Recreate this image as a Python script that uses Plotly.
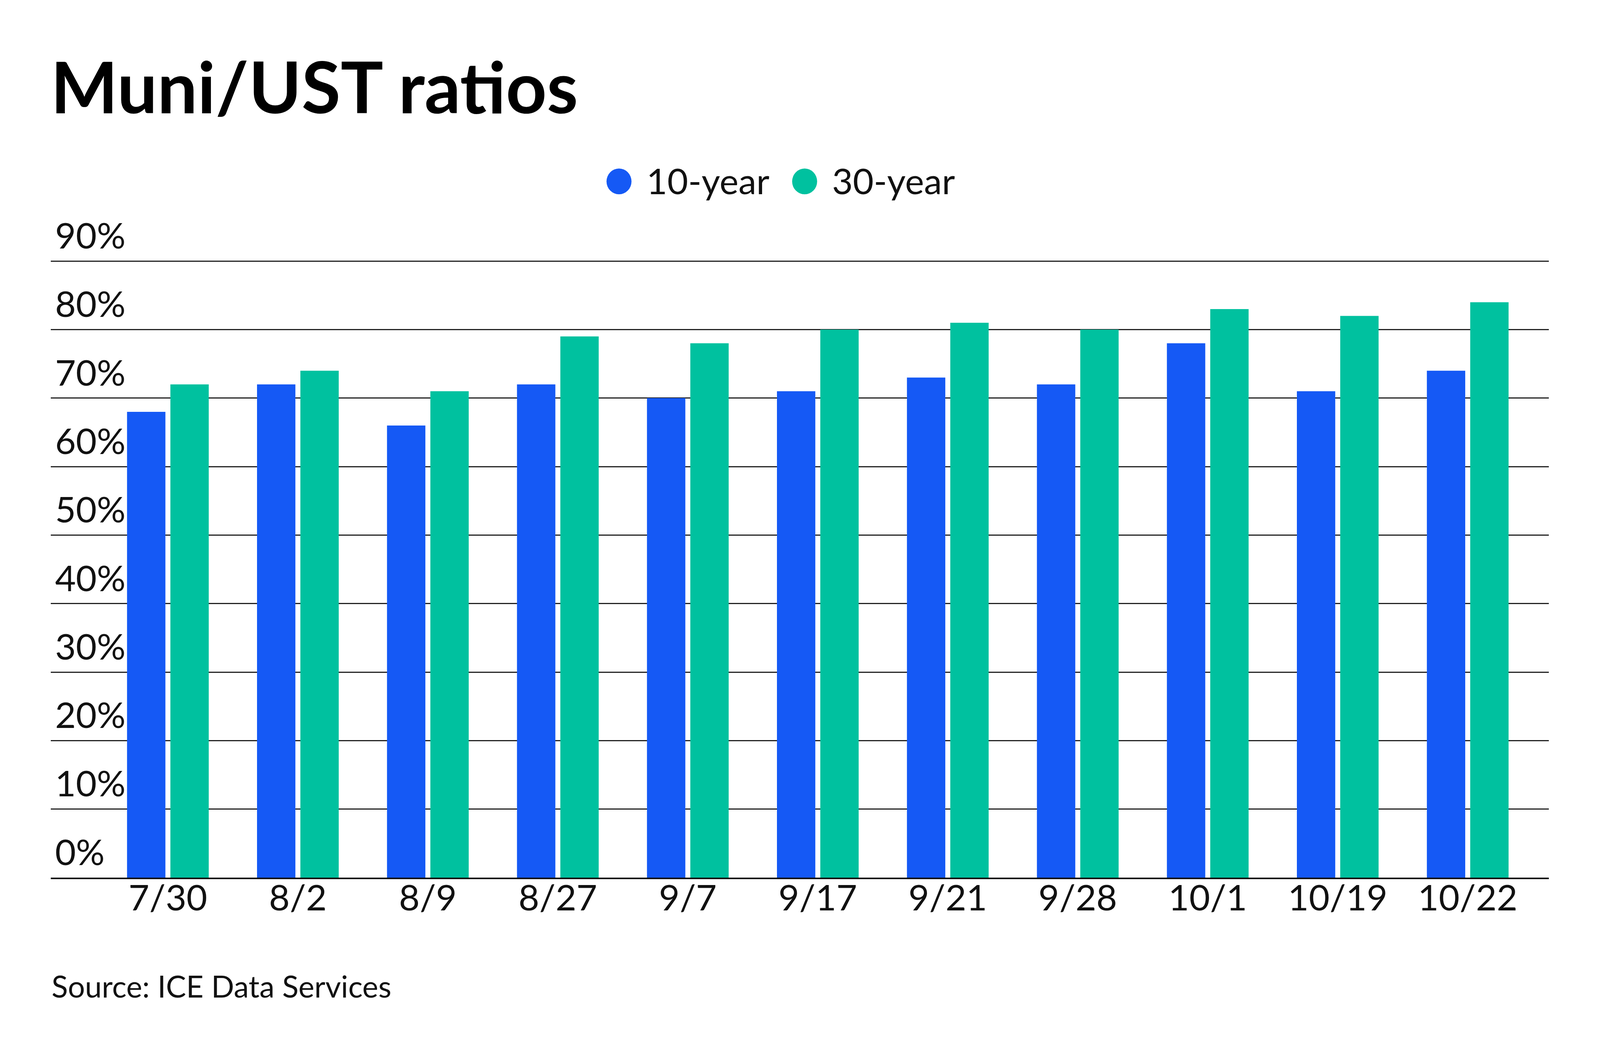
import plotly.graph_objects as go

# Muni/UST ratio data (%)
dates = ["7/30", "8/2", "8/9", "8/27", "9/7", "9/17", "9/21", "9/28", "10/1", "10/19", "10/22"]
ten_year = [68, 72, 66, 72, 70, 71, 73, 72, 78, 71, 74]
thirty_year = [72, 74, 71, 79, 78, 80, 81, 80, 83, 82, 84]

series_names = ["10-year", "30-year"]
colors = ["#1559F5", "#00C19F"]

FONT = "Lato"

# the page is 4096 css px wide (figure 4080x2684 inside the body margin);
# reference positions were measured on a 4800x2700 picture
FW, FH = 4080, 2684
SX = 4096 / 4800
FS = 0.92  # font scale, compromise between the x and y scaling


def fx(x_ref):
    return x_ref * SX - 8


def fy(y_ref):
    return y_ref - 8


Y_TOP = 98
PL, PR = fx(152), fx(4647)
PB = fy(2246)
PT = PB - Y_TOP * (2246 - 668) / 90
PW, PH = PR - PL, PB - PT

fig = go.Figure()
for name, vals, col in zip(series_names, [ten_year, thirty_year], colors):
    fig.add_trace(go.Bar(
        x=dates, y=vals, name=name,
        marker=dict(color=col, line=dict(width=0)),
        showlegend=False,
    ))

# hand-drawn legend (plotly caps legend marker size, so draw circles + labels)
legend_x = [1857, 2414]
shapes = []
annotations = []
for lx, name, col in zip(legend_x, series_names, colors):
    shapes.append(dict(
        type="circle", xref="paper", yref="paper",
        xsizemode="pixel", ysizemode="pixel",
        xanchor=(fx(lx) - PL) / PW, yanchor=1 + (PT - fy(464)) / PH,
        x0=-32, x1=32, y0=-33, y1=33,
        fillcolor=col, line=dict(width=0),
    ))
    annotations.append(dict(
        text=name, xref="paper", yref="paper",
        x=(fx(lx + 80) - PL) / PW, y=1 + (PT - fy(461)) / PH,
        xanchor="left", yanchor="middle", showarrow=False,
        font=dict(family=FONT, size=100 * FS, color="#111"),
    ))

annotations.append(dict(
    text="Source: ICE Data Services", xref="paper", yref="paper",
    x=0, y=-(fy(2523) - PB) / PH,
    xanchor="left", yanchor="middle", showarrow=False,
    font=dict(family=FONT, size=84 * FS, color="#111"),
))

fig.update_layout(
    autosize=True,
    margin=dict(l=PL, r=FW - PR, t=PT, b=FH - PB),
    paper_bgcolor="white", plot_bgcolor="white",
    barmode="group", bargap=0.333, bargroupgap=0.115,
    title=dict(
        text="Muni/UST ratios", xref="container", yref="container",
        x=fx(152) / FW, xanchor="left", y=1 - fy(226) / FH, yanchor="middle",
        font=dict(family=FONT, size=198 * FS, color="#000", weight=700),
    ),
    shapes=shapes,
    annotations=annotations,
    font=dict(family=FONT, color="#111"),
)

fig.update_xaxes(
    type="category", range=[-0.901, 10.624],
    showgrid=False, showline=True, linecolor="#111", linewidth=4,
    ticks="", ticklabelstandoff=-30,
    tickfont=dict(family=FONT, size=100 * FS, color="#111"),
)
fig.update_yaxes(
    range=[0, Y_TOP], tick0=0, dtick=10, ticksuffix="%",
    showgrid=True, gridcolor="#222", gridwidth=2.5,
    zeroline=False, showline=False, ticks="",
    ticklabelposition="inside top", ticklabelstandoff=8,
    tickfont=dict(family=FONT, size=100 * FS, color="#111"),
)

fig.write_html("out.html")
